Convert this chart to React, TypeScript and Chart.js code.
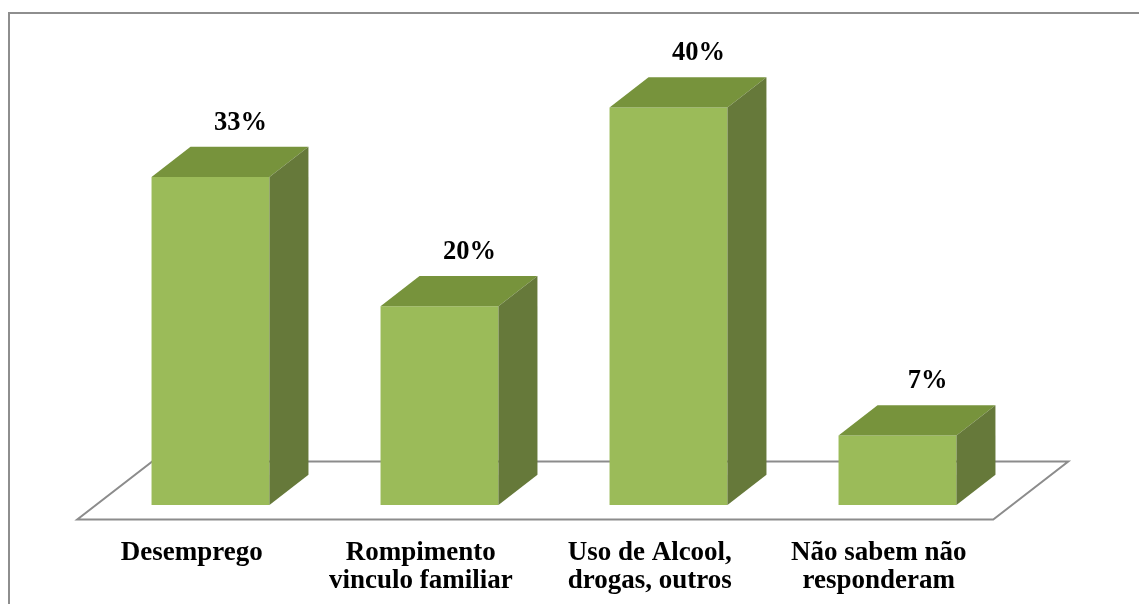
import React, { useEffect, useRef } from "react";
import { Chart, registerables } from "chart.js";

Chart.register(...registerables);

// Categories (multi-line tick labels) and their share of answers, in percent
const categories: string[][] = [
  ["Desemprego"],
  ["Rompimento", "vinculo familiar"],
  ["Uso de Alcool,", "drogas, outros"],
  ["Não sabem não", "responderam"],
];
const percentages: number[] = [33, 20, 40, 7];

const FONT_FAMILY = "'Liberation Serif', 'Times New Roman', serif";

// Colours of the three visible faces of each column
const FRONT = "#9BBB59";
const TOP = "#77933C";
const SIDE = "#66793A";
const LINE = "#8C8C8C";

// Oblique projection of the depth axis: full floor depth, where the column
// front sits within it, and how deep the columns are.
const FLOOR_DEPTH = { x: 75, y: -58 };
const FRONT_SHIFT = 0.25;
const COLUMN_DEPTH = 0.52;

const pseudo3d = {
  id: "pseudo3d",
  beforeDraw(chart: Chart) {
    const { ctx } = chart;
    ctx.save();
    ctx.strokeStyle = "#8E8E8E";
    ctx.lineWidth = 2;
    ctx.strokeRect(9, 13, chart.width + 200, chart.height + 200);
    ctx.restore();
  },
  beforeDatasetsDraw(chart: Chart) {
    const { ctx, chartArea } = chart;
    const y = chart.scales.y;
    const base = y.getPixelForValue(0);
    const fx = FLOOR_DEPTH.x * FRONT_SHIFT;
    const fy = FLOOR_DEPTH.y * FRONT_SHIFT;
    const x0 = chartArea.left - fx;
    const x1 = chartArea.right - fx;
    const y0 = base - fy;
    ctx.save();
    ctx.strokeStyle = LINE;
    ctx.lineWidth = 2;
    ctx.lineJoin = "miter";
    ctx.beginPath();
    ctx.moveTo(x0, y0);
    ctx.lineTo(x1, y0);
    ctx.lineTo(x1 + FLOOR_DEPTH.x, y0 + FLOOR_DEPTH.y);
    ctx.lineTo(x0 + FLOOR_DEPTH.x, y0 + FLOOR_DEPTH.y);
    ctx.closePath();
    ctx.stroke();
    ctx.restore();
  },
  afterDatasetsDraw(chart: Chart) {
    const { ctx } = chart;
    const meta = chart.getDatasetMeta(0);
    const dx = FLOOR_DEPTH.x * COLUMN_DEPTH;
    const dy = FLOOR_DEPTH.y * COLUMN_DEPTH;
    ctx.save();
    meta.data.forEach((el: any, i: number) => {
      const { x, y, base, width } = el.getProps(["x", "y", "base", "width"], true);
      const l = x - width / 2;
      const r = x + width / 2;
      // top face
      ctx.fillStyle = TOP;
      ctx.beginPath();
      ctx.moveTo(l, y);
      ctx.lineTo(r, y);
      ctx.lineTo(r + dx, y + dy);
      ctx.lineTo(l + dx, y + dy);
      ctx.closePath();
      ctx.fill();
      // right side face
      ctx.fillStyle = SIDE;
      ctx.beginPath();
      ctx.moveTo(r, y);
      ctx.lineTo(r + dx, y + dy);
      ctx.lineTo(r + dx, base + dy);
      ctx.lineTo(r, base);
      ctx.closePath();
      ctx.fill();
      // value label above the column
      ctx.fillStyle = "#000";
      ctx.font = `bold 26.5px ${FONT_FAMILY}`;
      ctx.textAlign = "center";
      ctx.textBaseline = "alphabetic";
      ctx.fillText(`${percentages[i]}%`, x + 30, y + dy - 17);
    });
    ctx.restore();
  },
};

export default function App() {
  const canvasRef = useRef<HTMLCanvasElement | null>(null);

  useEffect(() => {
    if (!canvasRef.current) return;
    const chart = new Chart(canvasRef.current, {
      type: "bar",
      data: {
        labels: categories,
        datasets: [
          {
            data: percentages,
            backgroundColor: FRONT,
            borderWidth: 0,
            barPercentage: 0.515,
            categoryPercentage: 1,
          },
        ],
      },
      options: {
        responsive: false,
        maintainAspectRatio: false,
        animation: false,
        layout: { padding: { left: 96, right: 127, top: 8, bottom: 0 } },
        plugins: {
          legend: { display: false },
          tooltip: { enabled: false },
          title: { display: false },
        },
        scales: {
          y: { display: false, min: 0, max: 50 },
          x: {
            grid: { display: false },
            border: { display: false },
            afterFit: (axis: any) => {
              axis.height = 99;
            },
            ticks: {
              color: "#000",
              padding: 26,
              labelOffset: -FLOOR_DEPTH.x * FRONT_SHIFT,
              maxRotation: 0,
              autoSkip: false,
              font: { family: FONT_FAMILY, size: 27, weight: "bold", lineHeight: 1.05 },
            },
          },
        },
      },
      plugins: [pseudo3d],
    });
    return () => chart.destroy();
  }, []);

  return (
    <div style={{ position: "fixed", left: 0, top: 0, width: 1139, height: 604, background: "#fff" }}>
      <canvas ref={canvasRef} width={1139} height={604} style={{ display: "block" }} />
    </div>
  );
}
